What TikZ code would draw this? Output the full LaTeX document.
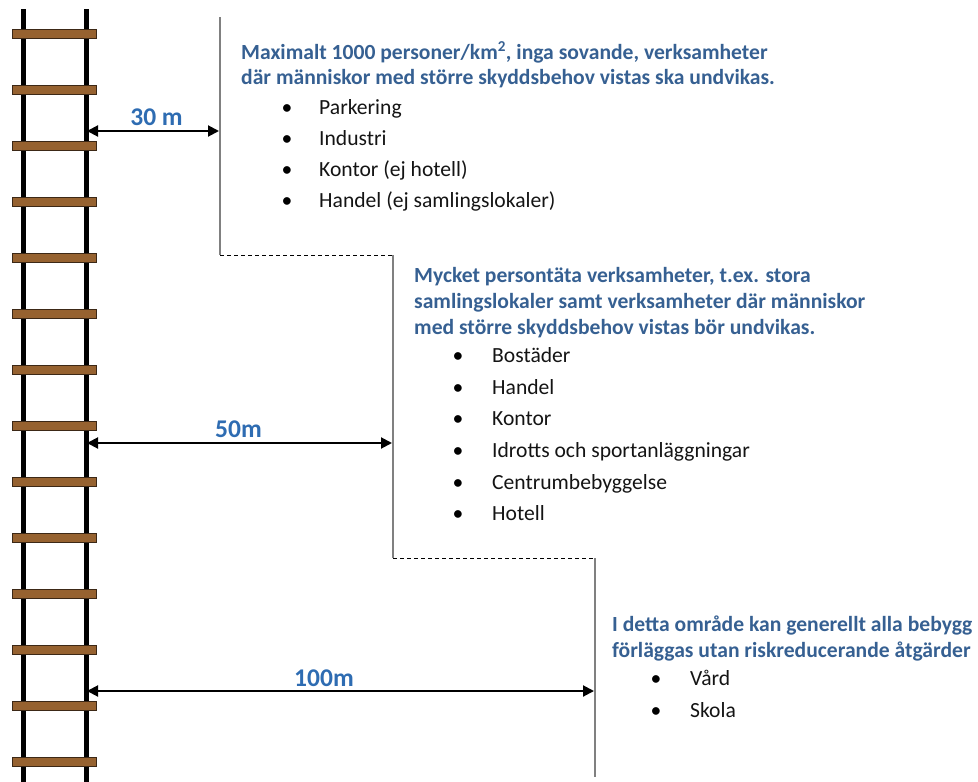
\documentclass[tikz,border=0pt]{standalone}
\usepackage{fontspec}
\setmainfont{Carlito}
\usetikzlibrary{arrows.meta}
\definecolor{headblue}{RGB}{54,96,146}
\definecolor{labblue}{RGB}{46,108,178}
\definecolor{rungbrown}{RGB}{150,98,48}
\definecolor{rungedge}{RGB}{60,40,22}
\definecolor{txtgray}{RGB}{20,20,20}
\tikzset{
  rail/.style={line width=5pt,black},
  rung/.style={fill=rungbrown,draw=rungedge,line width=1pt},
  zoneline/.style={draw=black!50,line width=1.5pt},
  zonedash/.style={draw=black,line width=0.9pt,dash pattern=on 4pt off 3pt},
  dimarrow/.style={line width=2pt,{Triangle[length=11pt,width=11pt]}-{Triangle[length=11pt,width=11pt]}},
  head/.style={anchor=base west,inner sep=0pt,text=headblue,font=\fontsize{21.6}{26}\selectfont\bfseries},
  item/.style={anchor=base west,inner sep=0pt,text=txtgray,font=\fontsize{21.6}{26}\selectfont},
  bul/.style={anchor=base,inner sep=0pt,text=black,font=\fontsize{21.6}{26}\selectfont},
  dimlab/.style={anchor=base,inner sep=0pt,text=labblue,font=\fontsize{25.5}{28}\selectfont\bfseries}
}
\begin{document}
\begin{tikzpicture}[x=1pt,y=-1pt]
\useasboundingbox (0,0) rectangle (978,782);
% ladder
\coordinate (lt) at (23,9); \coordinate (lb) at (23,782);
\coordinate (rt) at (86,9); \coordinate (rb) at (86,782);
\draw[rail] (lt) -- (lb);
\draw[rail] (rt) -- (rb);
\foreach \k in {0,...,13}{
  \draw[rung] (12.5,{29.5+56*\k}) rectangle (96,{38.5+56*\k});
}
% zone boundaries
\coordinate (a1) at (220,17);
\coordinate (a2) at (220,255);
\coordinate (b1) at (393,255);
\coordinate (b2) at (393,558);
\coordinate (c1) at (595,558);
\coordinate (c2) at (595,777);
\draw[zoneline] (a1) -- (a2);
\draw[zonedash] (a2) -- (b1);
\draw[zoneline] (b1) -- (b2);
\draw[zonedash] (b2) -- (c1);
\draw[zoneline] (c1) -- (c2);
% dimension arrows
\coordinate (s30) at (87,131); \coordinate (e30) at (219,131);
\coordinate (s50) at (87,443); \coordinate (e50) at (392,443);
\coordinate (s100) at (87,691); \coordinate (e100) at (594,691);
\draw[dimarrow] (s30) -- (e30);
\draw[dimarrow] (s50) -- (e50);
\draw[dimarrow] (s100) -- (e100);
\node[dimlab] (l30) at (156.5,125) {30 m};
\node[dimlab] (l50) at (238.5,437) {50m};
\node[dimlab] (l100) at (324,686) {100m};
% block 1
\node[head] (h11) at (241,59) {Maximalt 1000 personer/km\textsuperscript{2}, inga sovande, verksamheter};
\node[head] (h12) at (241,84) {där människor med större skyddsbehov vistas ska undvikas.};
\foreach \t/\y [count=\i] in {Parkering/114, Industri/145, Kontor (ej hotell)/176, Handel (ej samlingslokaler)/207}{
  \node[bul] (b1\i) at (287,\y) {\textbullet};
  \node[item] (t1\i) at (319,\y) {\t};
}
% block 2
\node[head] (h21) at (414,282) {Mycket persontäta verksamheter, t.ex. stora};
\node[head] (h22) at (414,308) {samlingslokaler samt verksamheter där människor};
\node[head] (h23) at (414,334) {med större skyddsbehov vistas bör undvikas.};
\foreach \t/\y [count=\i] in {Bostäder/362, Handel/394, Kontor/425, Idrotts och sportanläggningar/457, Centrumbebyggelse/489, Hotell/520}{
  \node[bul] (b2\i) at (458,\y) {\textbullet};
  \node[item] (t2\i) at (492,\y) {\t};
}
% block 3
\node[head] (h31) at (612,631) {I detta område kan generellt alla bebygg};
\node[head] (h32) at (612,657) {förläggas utan riskreducerande åtgärder};
\foreach \t/\y [count=\i] in {Vård/685, Skola/717}{
  \node[bul] (b3\i) at (656,\y) {\textbullet};
  \node[item] (t3\i) at (690,\y) {\t};
}
\end{tikzpicture}
\end{document}
